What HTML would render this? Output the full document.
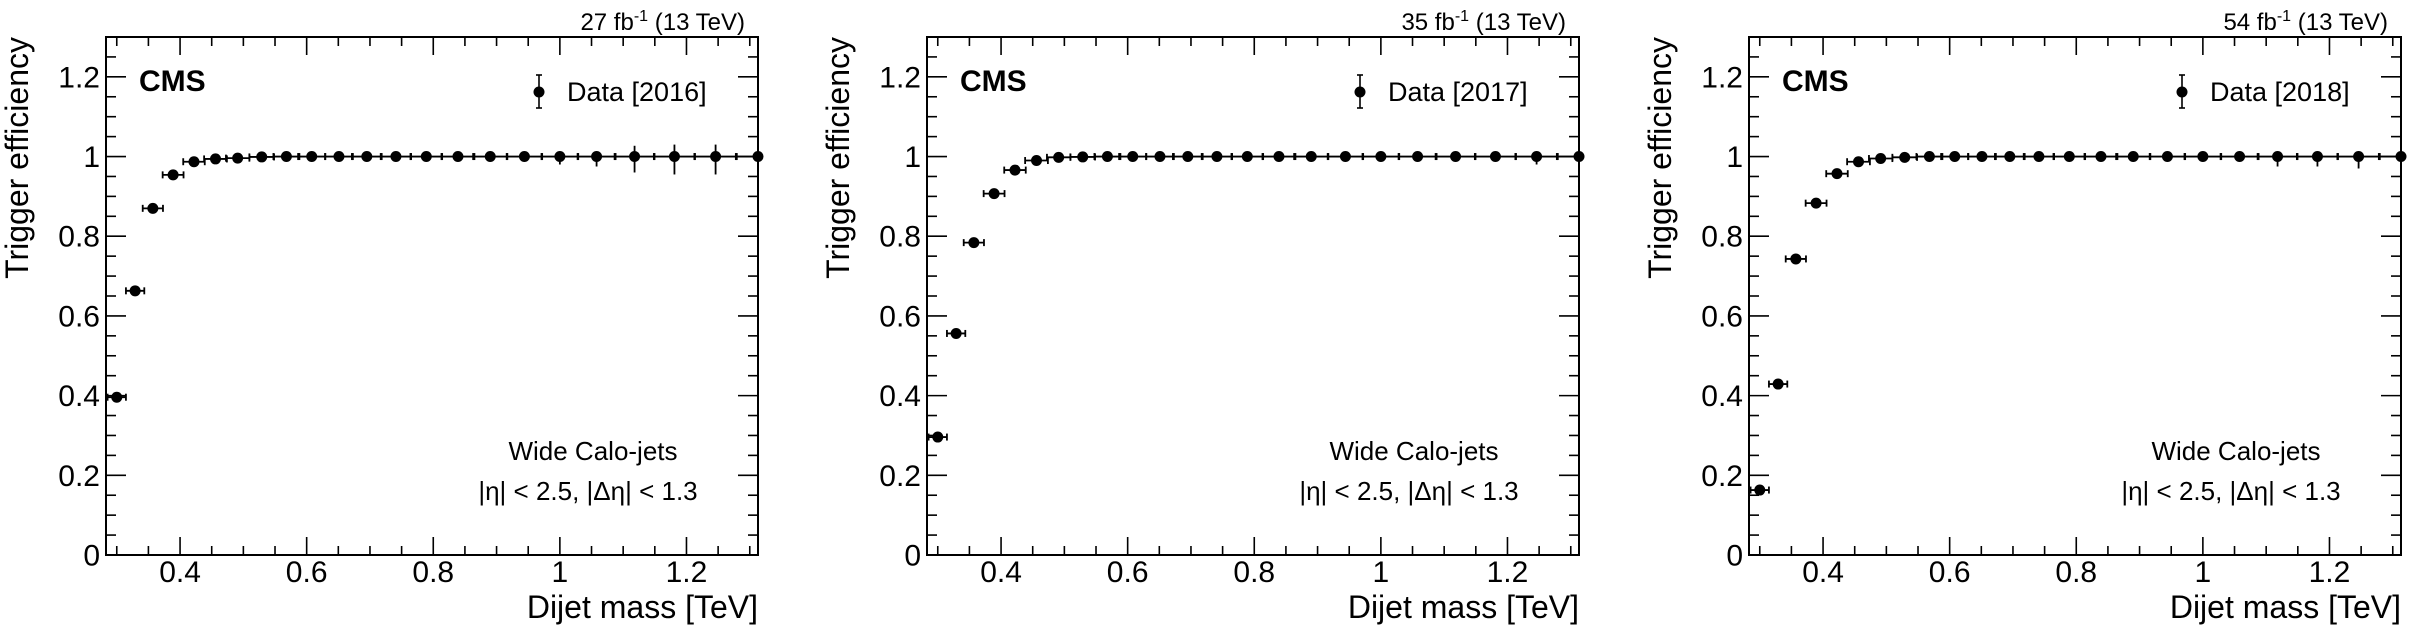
<!DOCTYPE html>
<html><head><meta charset="utf-8"><title>CMS trigger efficiency</title>
<style>
html,body{margin:0;padding:0;background:#fff;}
svg{display:block;font-family:"Liberation Sans",Arial,sans-serif;}
</style></head>
<body>
<svg id="chart" width="2427" height="638" viewBox="0 0 2427 638" xmlns="http://www.w3.org/2000/svg"></svg>
<script>
// ---- data (shared bins) ----
const massBins = [0.300,0.329,0.357,0.389,0.422,0.456,0.491,0.529,0.568,0.608,0.651,0.695,0.741,0.789,0.839,0.890,0.944,1.000,1.058,1.118,1.181,1.246,1.313];
const massErr  = [0.0145,0.0145,0.016,0.0165,0.017,0.018,0.0185,0.0195,0.0205,0.0215,0.022,0.0235,0.024,0.025,0.026,0.027,0.028,0.029,0.030,0.0315,0.0325,0.0335,0.035];
// ---- efficiency per year ----
const eff2016 = [0.396,0.663,0.870,0.954,0.987,0.994,0.996,0.999,1,1,1,1,1,1,1,1,1,1,1,1,1,1,1];
const eff2017 = [0.296,0.556,0.784,0.907,0.966,0.990,0.998,0.999,1,1,1,1,1,1,1,1,1,1,1,1,1,1,1];
const eff2018 = [0.163,0.429,0.743,0.883,0.957,0.987,0.995,0.998,1,1,1,1,1,1,1,1,1,1,1,1,1,1,1];
const errDn2016 = [0.005,0.005,0.005,0.005,0.004,0.003,0.003,0.002,0.002,0.002,0.002,0.002,0.003,0.003,0.004,0.005,0.008,0.02,0.025,0.04,0.045,0.045,0.13];
const errUp2016 = [0.005,0.005,0.005,0.004,0.003,0.002,0.002,0.001,0,0,0,0,0,0,0,0,0.003,0.005,0.01,0.027,0.03,0.03,0];
const errDn2017 = [0.005,0.005,0.005,0.004,0.003,0.002,0.002,0.001,0,0,0,0,0,0,0,0,0,0.003,0.004,0.006,0.008,0.02,0.01];
const errUp2017 = [0.005,0.005,0.005,0.004,0.003,0.002,0.001,0.001,0,0,0,0,0,0,0,0,0,0,0,0,0,0.01,0];
const errDn2018 = [0.005,0.005,0.005,0.004,0.003,0.002,0.002,0.001,0,0,0,0,0,0,0,0,0,0.004,0.006,0.025,0.025,0.03,0.03];
const errUp2018 = [0.005,0.005,0.005,0.004,0.003,0.002,0.001,0.001,0,0,0,0,0,0,0,0,0,0,0,0.01,0.01,0.01,0];
const years = ["2016","2017","2018"];
const lumis = ["27","35","54"];
const xTickLabels = ["0.4","0.6","0.8","1","1.2"];
const xTickValues = [0.4,0.6,0.8,1.0,1.2];
const yTickLabels = ["0","0.2","0.4","0.6","0.8","1","1.2"];
const yTickValues = [0,0.2,0.4,0.6,0.8,1.0,1.2];

const effSets = [eff2016,eff2017,eff2018];
const dnSets = [errDn2016,errDn2017,errDn2018];
const upSets = [errUp2016,errUp2017,errUp2018];

const NS = "http://www.w3.org/2000/svg";
const svg = document.getElementById("chart");
const X0 = 0.283, X1 = 1.313, Y0 = 0, Y1 = 1.3;
const PW = 652, PT = 37, PB = 555;
const offsets = [106, 927, 1749];

function mk(tag, attrs, parent){
  const e = document.createElementNS(NS, tag);
  for (const k in attrs) e.setAttribute(k, attrs[k]);
  parent.appendChild(e);
  return e;
}

offsets.forEach((L, p) => {
  const R = L + PW;
  const sx = v => L + (v - X0) / (X1 - X0) * PW;
  const sy = v => PB - (v - Y0) / (Y1 - Y0) * (PB - PT);
  const g = mk("g", {}, svg);
  
  

  // frame
  const fr = mk("rect", {x:L, y:PT, width:PW, height:PB-PT, fill:"none", stroke:"#000", "stroke-width":2}, g);
  
  

  // ticks
  const tg = mk("g", {stroke:"#000", "stroke-width":1.6}, g);
  
  
  for (let i = 6; i <= 26; i++) {
    const v = i * 0.05; if (v < X0 || v > X1) continue;
    const major = (i % 4 === 0);
    const len = major ? 18 : 9;
    const x = sx(v);
    mk("line", {x1:x, y1:PB, x2:x, y2:PB-len}, tg);
    mk("line", {x1:x, y1:PT, x2:x, y2:PT+len}, tg);
  }
  for (let i = 0; i <= 26; i++) {
    const v = i * 0.05;
    const major = (i % 4 === 0);
    const len = major ? 20 : 10;
    const y = sy(v);
    mk("line", {x1:L, y1:y, x2:L+len, y2:y}, tg);
    mk("line", {x1:R, y1:y, x2:R-len, y2:y}, tg);
  }

  // tick labels
  xTickValues.forEach((v, i) => {
    const t = mk("text", {x:sx(v), y:582, "font-size":30, "text-anchor":"middle"}, g);
    
    
    t.textContent = xTickLabels[i];
  });
  yTickValues.forEach((v, i) => {
    const t = mk("text", {x:L-6, y:sy(v)+10.5, "font-size":30, "text-anchor":"end"}, g);
    
    
    t.textContent = yTickLabels[i];
  });

  // axis titles
  const xt = mk("text", {x:R, y:618, "font-size":32, "text-anchor":"end"}, g);
  
  
  xt.textContent = "Dijet mass [TeV]";
  const yt = mk("text", {x:0, y:0, "font-size":32, "text-anchor":"end", transform:"translate(" + (L-78) + "," + PT + ") rotate(-90)"}, g);
  
  
  yt.textContent = "Trigger efficiency";

  // lumi label
  const lt = mk("text", {x:R-13, y:30, "font-size":24, "text-anchor":"end"}, g);
  
  
  lt.innerHTML = lumis[p] + ' fb<tspan dy="-9" font-size="16">-1</tspan><tspan dy="9"> (13 TeV)</tspan>';

  // CMS label
  const cms = mk("text", {x:L+33, y:91, "font-size":30, "font-weight":"bold"}, g);
  
  
  cms.textContent = "CMS";

  // legend
  const lg = mk("g", {}, g);
  
  
  mk("line", {x1:L+433, y1:75, x2:L+433, y2:108, stroke:"#000", "stroke-width":1.6}, lg);
  mk("line", {x1:L+430, y1:75, x2:L+436, y2:75, stroke:"#000", "stroke-width":1.6}, lg);
  mk("line", {x1:L+430, y1:108, x2:L+436, y2:108, stroke:"#000", "stroke-width":1.6}, lg);
  mk("circle", {cx:L+433, cy:92, r:5.5, fill:"#000"}, lg);
  const ltx = mk("text", {x:L+461, y:101, "font-size":27}, lg);
  ltx.textContent = "Data [" + years[p] + "]";

  // annotation
  const a1 = mk("text", {x:L+487, y:460, "font-size":26, "text-anchor":"middle"}, g);
  
  
  a1.textContent = "Wide Calo-jets";
  const a2 = mk("text", {x:L+482, y:500, "font-size":26, "text-anchor":"middle"}, g);
  
  
  a2.textContent = "|\u03B7| < 2.5, |\u0394\u03B7| < 1.3";

  // data points
  const dg = mk("g", {stroke:"#000", "stroke-width":1.8, fill:"#000"}, g);
  
  
  const eff = effSets[p], dn = dnSets[p], up = upSets[p];
  massBins.forEach((m, i) => {
    const pg = mk("g", {}, dg);
    
    
    const cx = sx(m), cy = sy(eff[i]);
    const xl = Math.max(L, sx(m - massErr[i])), xr = Math.min(R, sx(m + massErr[i]));
    mk("line", {x1:xl, y1:cy, x2:xr, y2:cy}, pg);
    mk("line", {x1:xl, y1:cy-3.5, x2:xl, y2:cy+3.5}, pg);
    mk("line", {x1:xr, y1:cy-3.5, x2:xr, y2:cy+3.5}, pg);
    if (dn[i] > 0 || up[i] > 0) {
      mk("line", {x1:cx, y1:sy(eff[i]+up[i]), x2:cx, y2:sy(eff[i]-dn[i])}, pg);
    }
    mk("circle", {cx:cx, cy:cy, r:5.5, stroke:"none"}, pg);
  });
});
</script>
</body></html>
